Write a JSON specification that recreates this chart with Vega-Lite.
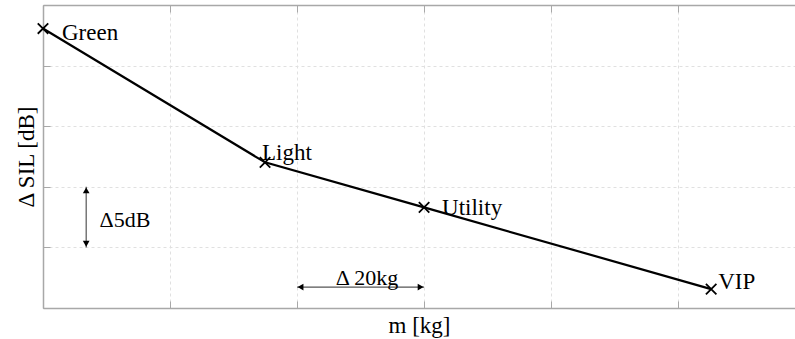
{
  "$schema": "https://vega.github.io/schema/vega-lite/v6.json",
  "autosize": "none",
  "width": 752,
  "height": 303,
  "padding": {"left": 43, "top": 5, "right": 0, "bottom": 31},
  "background": "white",
  "config": {
    "view": {"stroke": null},
    "font": "Liberation Serif",
    "axis": {
      "domainColor": "#a8a8a8",
      "domainWidth": 1.5,
      "tickColor": "#a8a8a8",
      "tickWidth": 1,
      "tickSize": -7,
      "labels": false,
      "gridColor": "#e0e0e0",
      "gridDash": [3, 3],
      "gridWidth": 1,
      "titleFont": "Liberation Serif",
      "titleFontSize": 23,
      "titleFontWeight": "normal",
      "titleColor": "black"
    }
  },
  "datasets": {
    "main": [
      {"name": "Green", "m": 0, "sil": 23.06},
      {"name": "Light", "m": 34.96, "sil": 12.02},
      {"name": "Utility", "m": 60.0, "sil": 8.3},
      {"name": "VIP", "m": 105.2, "sil": 1.56}
    ],
    "arrows": [
      {"m": 6.8, "sil": 5.0, "m2": 6.8, "sil2": 10.0},
      {"m": 40.0, "sil": 1.73, "m2": 60.0, "sil2": 1.73}
    ],
    "heads": [
      {"m": 6.8, "sil": 9.7, "dir": "up"},
      {"m": 6.8, "sil": 5.3, "dir": "down"},
      {"m": 40.55, "sil": 1.73, "dir": "left"},
      {"m": 59.45, "sil": 1.73, "dir": "right"}
    ],
    "notes": [
      {"m": 8.9, "sil": 7.3, "label": "Δ5dB"},
      {"m": 51.0, "sil": 2.5, "label": "Δ 20kg"}
    ]
  },
  "resolve": {"axis": {"x": "independent"}},
  "layer": [
    {
      "data": {"name": "main"},
      "mark": {"type": "line", "color": "black", "strokeWidth": 2.2},
      "encoding": {
        "x": {"field": "m", "type": "quantitative", "scale": {"domain": [0, 118.4], "nice": false, "zero": false},
              "axis": {"orient": "bottom", "values": [0, 20, 40, 60, 80, 100], "title": "m [kg]", "titlePadding": 6, "grid": true}},
        "y": {"field": "sil", "type": "quantitative", "scale": {"domain": [0, 25], "nice": false},
              "axis": {"values": [0, 5, 10, 15, 20, 25], "title": "Δ SIL [dB]", "titlePadding": 4, "grid": true}}
      }
    },
    {
      "data": {"name": "main"},
      "mark": {"type": "line", "opacity": 0},
      "encoding": {
        "x": {"field": "m", "type": "quantitative", "axis": {"orient": "top", "values": [0, 20, 40, 60, 80, 100], "title": null, "grid": false}},
        "y": {"field": "sil", "type": "quantitative"}
      }
    },
    {
      "data": {"name": "main"},
      "mark": {"type": "point", "shape": "M-1,-1L1,1M-1,1L1,-1", "size": 110, "stroke": "black", "strokeWidth": 1.8, "filled": false, "opacity": 1},
      "encoding": {
        "x": {"field": "m", "type": "quantitative", "axis": null},
        "y": {"field": "sil", "type": "quantitative"}
      }
    },
    {
      "data": {"name": "main"},
      "transform": [{"filter": "datum.name == 'Green'"}],
      "mark": {"type": "text", "align": "left", "baseline": "middle", "dx": 19, "dy": 4, "fontSize": 23, "color": "black"},
      "encoding": {"x": {"field": "m", "type": "quantitative", "axis": null}, "y": {"field": "sil", "type": "quantitative"}, "text": {"field": "name"}}
    },
    {
      "data": {"name": "main"},
      "transform": [{"filter": "datum.name == 'Light'"}],
      "mark": {"type": "text", "align": "left", "baseline": "middle", "dx": -3, "dy": -9, "fontSize": 23, "color": "black"},
      "encoding": {"x": {"field": "m", "type": "quantitative", "axis": null}, "y": {"field": "sil", "type": "quantitative"}, "text": {"field": "name"}}
    },
    {
      "data": {"name": "main"},
      "transform": [{"filter": "datum.name == 'Utility'"}],
      "mark": {"type": "text", "align": "left", "baseline": "middle", "dx": 18, "dy": 1, "fontSize": 23, "color": "black"},
      "encoding": {"x": {"field": "m", "type": "quantitative", "axis": null}, "y": {"field": "sil", "type": "quantitative"}, "text": {"field": "name"}}
    },
    {
      "data": {"name": "main"},
      "transform": [{"filter": "datum.name == 'VIP'"}],
      "mark": {"type": "text", "align": "left", "baseline": "middle", "dx": 7, "dy": -7, "fontSize": 23, "color": "black"},
      "encoding": {"x": {"field": "m", "type": "quantitative", "axis": null}, "y": {"field": "sil", "type": "quantitative"}, "text": {"field": "name"}}
    },
    {
      "data": {"name": "arrows"},
      "mark": {"type": "rule", "color": "#555555", "strokeWidth": 1.2},
      "encoding": {
        "x": {"field": "m", "type": "quantitative", "axis": null},
        "y": {"field": "sil", "type": "quantitative"},
        "x2": {"field": "m2"},
        "y2": {"field": "sil2"}
      }
    },
    {
      "data": {"name": "heads"},
      "mark": {"type": "point", "filled": true, "color": "black", "size": 45, "opacity": 1},
      "encoding": {
        "x": {"field": "m", "type": "quantitative", "axis": null},
        "y": {"field": "sil", "type": "quantitative"},
        "shape": {"field": "dir", "type": "nominal", "legend": null,
                  "scale": {"domain": ["up", "down", "left", "right"], "range": ["triangle-up", "triangle-down", "triangle-left", "triangle-right"]}}
      }
    },
    {
      "data": {"name": "notes"},
      "transform": [{"filter": "datum.label == 'Δ5dB'"}],
      "mark": {"type": "text", "align": "left", "baseline": "middle", "fontSize": 22, "color": "black"},
      "encoding": {
        "x": {"field": "m", "type": "quantitative", "axis": null},
        "y": {"field": "sil", "type": "quantitative"},
        "text": {"field": "label"}
      }
    },
    {
      "data": {"name": "notes"},
      "transform": [{"filter": "datum.label == 'Δ 20kg'"}],
      "mark": {"type": "text", "align": "center", "baseline": "middle", "fontSize": 22, "color": "black"},
      "encoding": {
        "x": {"field": "m", "type": "quantitative", "axis": null},
        "y": {"field": "sil", "type": "quantitative"},
        "text": {"field": "label"}
      }
    }
  ]
}
